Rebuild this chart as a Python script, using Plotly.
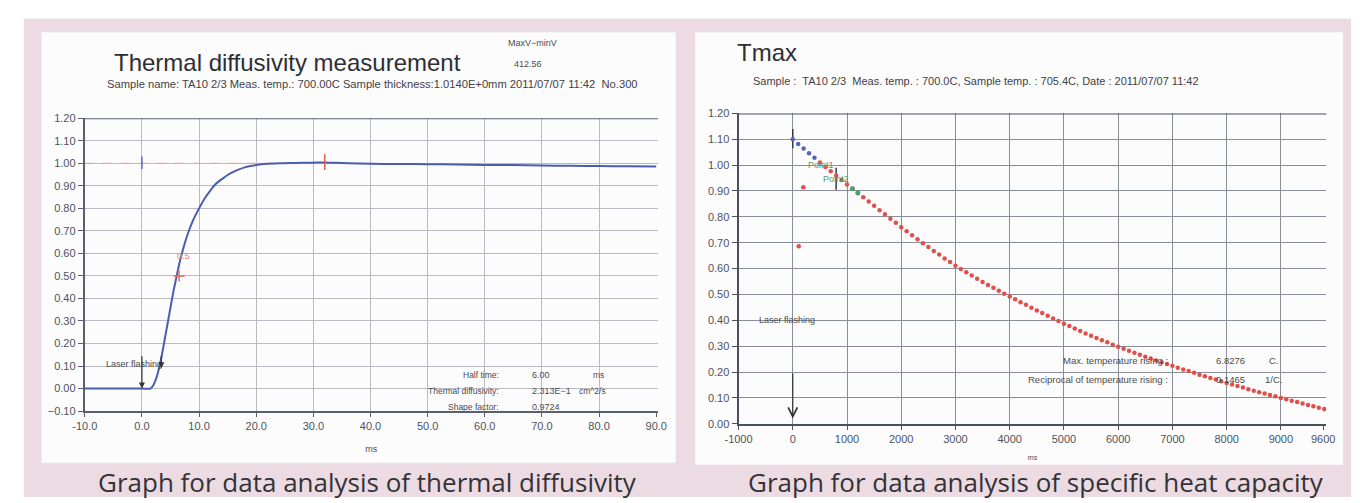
import plotly.graph_objects as go

W, H = 1360, 503

# ---------------- data: left chart (thermal diffusivity) ----------------
diff_time_ms = [-10, 0, 1.5, 2, 2.5, 3, 3.5, 4, 4.5, 5, 5.5, 6, 6.5, 7, 7.5, 8, 9, 10, 11, 12,
                13, 14, 15, 16, 17, 18, 19, 20, 22, 24, 26, 28, 30, 32, 34, 36, 40, 45, 50,
                55, 60, 65, 70, 75, 80, 85, 90]
diff_signal = [0, 0, 0, 0.015, 0.045, 0.09, 0.15, 0.22, 0.29, 0.36, 0.43, 0.49, 0.55, 0.60,
               0.645, 0.685, 0.75, 0.80, 0.845, 0.88, 0.91, 0.93, 0.948, 0.962, 0.973, 0.982,
               0.988, 0.993, 0.998, 1.0, 1.001, 1.002, 1.003, 1.004, 1.002, 1.0, 0.998, 0.997,
               0.996, 0.995, 0.993, 0.992, 0.990, 0.989, 0.988, 0.987, 0.986]
ref_level_x = [-10, 32]
ref_level_y = [1.0, 1.0]
start_mark_x = [0, 0]
start_mark_y = [0.975, 1.03]
end_mark_x = [32, 32]
end_mark_y = [0.97, 1.04]
half_point_x = [6.5]
half_point_y = [0.50]
left_xticks = [-10, 0, 10, 20, 30, 40, 50, 60, 70, 80, 90]
left_xtick_text = ["-10.0", "0.0", "10.0", "20.0", "30.0", "40.0", "50.0", "60.0", "70.0", "80.0", "90.0"]
left_yticks = [-0.1, 0.0, 0.1, 0.2, 0.3, 0.4, 0.5, 0.6, 0.7, 0.8, 0.9, 1.0, 1.1, 1.2]

# ---------------- data: right chart (Tmax) ----------------
extrap_x = [0, 100, 200, 300, 400]
extrap_y = [1.100, 1.082, 1.064, 1.046, 1.028]
outlier_x = [110, 195]
outlier_y = [0.686, 0.914]
tmax_x = list(range(500, 9900, 100))
tmax_y = [1.010, 0.993, 0.976, 0.959, 0.942, 0.925, 0.909, 0.892, 0.876, 0.859,
          0.843, 0.826, 0.810, 0.793, 0.777, 0.760, 0.744, 0.729, 0.713, 0.698,
          0.683, 0.668, 0.654, 0.639, 0.625, 0.611, 0.598, 0.586, 0.573, 0.561,
          0.548, 0.537, 0.526, 0.514, 0.503, 0.492, 0.481, 0.470, 0.460, 0.449,
          0.438, 0.428, 0.418, 0.407, 0.397, 0.387, 0.378, 0.368, 0.359, 0.349,
          0.340, 0.332, 0.323, 0.315, 0.306, 0.298, 0.290, 0.282, 0.275, 0.267,
          0.259, 0.252, 0.245, 0.238, 0.231, 0.224, 0.217, 0.210, 0.204, 0.197,
          0.190, 0.184, 0.177, 0.171, 0.164, 0.158, 0.152, 0.146, 0.140, 0.134,
          0.128, 0.122, 0.117, 0.111, 0.106, 0.100, 0.095, 0.089, 0.084, 0.078,
          0.073, 0.068, 0.062, 0.057]
fit_x = [1100, 1200]
fit_y = [0.909, 0.892]
point0_mark_x = [0, 0]
point0_mark_y = [1.065, 1.14]
point2_mark_x = [800, 800]
point2_mark_y = [0.905, 0.99]
right_grid_ticks = [-1000, 0, 1000, 2000, 3000, 4000, 5000, 6000, 7000, 8000, 9000]
right_label_ticks = [-1000, 0, 1000, 2000, 3000, 4000, 5000, 6000, 7000, 8000, 9000, 9780]
right_label_text = ["-1000", "0", "1000", "2000", "3000", "4000", "5000", "6000", "7000",
                    "8000", "9000", "9600"]
right_yticks = [0.0, 0.1, 0.2, 0.3, 0.4, 0.5, 0.6, 0.7, 0.8, 0.9, 1.0, 1.1, 1.2]


def px(x):
    return x / W


def py(y):
    return 1 - y / H


FAM = "Liberation Sans, Arial, sans-serif"
TICKFONT = dict(family=FAM, size=11, color="#4d525e")
SMALL = dict(family=FAM, size=9, color="#4a4a50")

fig = go.Figure()

# ---- left chart traces ----
fig.add_trace(go.Scatter(x=ref_level_x, y=ref_level_y, mode="lines",
                         line=dict(color="#f0a0a0", width=1.2, dash="dash"),
                         xaxis="x", yaxis="y", hoverinfo="skip"))
fig.add_trace(go.Scatter(x=diff_time_ms, y=diff_signal, mode="lines",
                         line=dict(color="#4a5db0", width=2, shape="spline", smoothing=0.6),
                         xaxis="x", yaxis="y"))
fig.add_trace(go.Scatter(x=start_mark_x, y=start_mark_y, mode="lines",
                         line=dict(color="#5a70c0", width=1.5), xaxis="x", yaxis="y"))
fig.add_trace(go.Scatter(x=end_mark_x, y=end_mark_y, mode="lines",
                         line=dict(color="#e05a50", width=1.5), xaxis="x", yaxis="y"))
fig.add_trace(go.Scatter(x=half_point_x, y=half_point_y, mode="markers",
                         marker=dict(symbol="cross-thin", size=8,
                                     line=dict(color="#e86a5a", width=1.5)),
                         xaxis="x", yaxis="y"))

# ---- right chart traces ----
fig.add_trace(go.Scatter(x=point0_mark_x, y=point0_mark_y, mode="lines",
                         line=dict(color="#333a48", width=1.5), xaxis="x2", yaxis="y2"))
fig.add_trace(go.Scatter(x=point2_mark_x, y=point2_mark_y, mode="lines",
                         line=dict(color="#333a48", width=1.5), xaxis="x2", yaxis="y2"))
fig.add_trace(go.Scatter(x=extrap_x, y=extrap_y, mode="markers",
                         marker=dict(color="#5565b5", size=4.5), xaxis="x2", yaxis="y2"))
fig.add_trace(go.Scatter(x=tmax_x, y=tmax_y, mode="markers",
                         marker=dict(color="#e0504a", size=4.5), xaxis="x2", yaxis="y2"))
fig.add_trace(go.Scatter(x=outlier_x, y=outlier_y, mode="markers",
                         marker=dict(color="#e0504a", size=4.5), xaxis="x2", yaxis="y2"))
fig.add_trace(go.Scatter(x=fit_x, y=fit_y, mode="markers",
                         marker=dict(color="#4fa070", size=5), xaxis="x2", yaxis="y2"))

# invisible traces so the overlay label axes are rendered
fig.add_trace(go.Scatter(x=[-10, 90], y=[0, 0], mode="markers", marker=dict(opacity=0),
                         xaxis="x3", yaxis="y", hoverinfo="skip"))
fig.add_trace(go.Scatter(x=[-1000, 9800], y=[0, 0], mode="markers", marker=dict(opacity=0),
                         xaxis="x4", yaxis="y2", hoverinfo="skip"))

L_DOM = [px(72), px(655)]
L_YDOM = [py(415), py(115)]
R_DOM = [px(737), px(1335)]
R_YDOM = [py(428), py(110)]
L_RANGE = [-10, 90.3]
R_RANGE = [-1000, 9840]

fig.update_layout(
    width=W, height=H, margin=dict(l=0, r=0, t=0, b=0),
    paper_bgcolor="white", plot_bgcolor="rgba(0,0,0,0)", showlegend=False,
    xaxis=dict(domain=L_DOM, range=L_RANGE, anchor="y", tickvals=left_xticks[:-1],
               showticklabels=False, ticks="", showgrid=True, gridcolor="#b9bac2",
               gridwidth=1.2, zeroline=False, showline=True, linecolor="#5b6070",
               linewidth=2),
    xaxis3=dict(overlaying="x", anchor="y", range=L_RANGE, tickvals=left_xticks,
                ticktext=left_xtick_text, ticks="outside", ticklen=5, tickcolor="#5b6070",
                tickwidth=1.2, showgrid=False, zeroline=False, showline=False,
                tickfont=TICKFONT, title=dict(text="ms", font=SMALL, standoff=14)),
    yaxis=dict(domain=L_YDOM, range=[-0.1, 1.2], anchor="x", tickvals=left_yticks,
               tickformat=".2f", ticks="outside", ticklen=5, tickcolor="#5b6070",
               showgrid=True, gridcolor="#b9bac2", gridwidth=1.2, zeroline=False,
               showline=True, linecolor="#5b6070", linewidth=2, tickfont=TICKFONT),
    xaxis2=dict(domain=R_DOM, range=R_RANGE, anchor="y2", tickvals=right_grid_ticks,
                showticklabels=False, ticks="", showgrid=True, gridcolor="#8a8e9a",
                gridwidth=1.4, zeroline=False, showline=True, linecolor="#4b5060",
                linewidth=2),
    xaxis4=dict(overlaying="x2", anchor="y2", range=R_RANGE, tickvals=right_label_ticks,
                ticktext=right_label_text, ticks="outside", ticklen=5, tickcolor="#4b5060",
                tickwidth=1.2, showgrid=False, zeroline=False, showline=False,
                tickfont=TICKFONT, title=dict(text="ms", font=dict(SMALL, size=7), standoff=11)),
    yaxis2=dict(domain=R_YDOM, range=[0, 1.2], anchor="x2", tickvals=right_yticks,
                tickformat=".2f", ticks="outside", ticklen=5, tickcolor="#4b5060",
                showgrid=True, gridcolor="#8a8e9a", gridwidth=1.4, zeroline=False,
                showline=True, linecolor="#4b5060", linewidth=2, tickfont=TICKFONT),
)

# background panels
shapes = [
    dict(type="rect", xref="paper", yref="paper", x0=px(10), x1=1, y0=0, y1=py(13),
         fillcolor="#ecdbe3", line=dict(width=0), layer="below"),
    dict(type="rect", xref="paper", yref="paper", x0=px(28), x1=px(673), y0=py(468), y1=py(27),
         fillcolor="#fdfcfd", line=dict(width=0), layer="below"),
    dict(type="rect", xref="paper", yref="paper", x0=px(693), x1=px(1352), y0=py(470), y1=py(27),
         fillcolor="#fdfcfd", line=dict(width=0), layer="below"),
    # top border lines of the plot areas
    dict(type="line", xref="x domain", yref="y", x0=0, x1=1, y0=1.2, y1=1.2,
         line=dict(color="#5b6070", width=2)),
    dict(type="line", xref="x2 domain", yref="y2", x0=0, x1=1, y0=1.2, y1=1.2,
         line=dict(color="#4b5060", width=2)),
]
fig.update_layout(shapes=shapes)

ann = []


def text(x, y, s, size=9, color="#4a4a50", anchor="left", family=FAM):
    ann.append(dict(xref="paper", yref="paper", x=px(x), y=py(y), text=s, showarrow=False,
                    xanchor=anchor, yanchor="middle",
                    font=dict(size=size, color=color, family=family)))


# left chart header
text(100, 58, "Thermal diffusivity measurement", size=24, color="#2e2e34")
text(500, 38, "MaxV−minV", size=9)
text(507, 59, "412.56", size=9)
text(93, 80, "Sample name: TA10 2/3 Meas. temp.: 700.00C Sample thickness:1.0140E+0mm 2011/07/07 11:42  No.300",
     size=11.2, color="#3f3f46")
# left chart result block
text(495, 378, "Half time:", size=8.5, anchor="right")
text(525, 378, "6.00", size=9)
text(587, 378, "ms", size=8.5)
text(495, 394, "Thermal diffusivity:", size=8.5, anchor="right")
text(525, 394, "2.313E−1", size=9)
text(573, 394, "cm^2/s", size=8.5)
text(495, 411, "Shape factor:", size=8.5, anchor="right")
text(525, 411, "0.9724", size=9)

# right chart header
text(733, 48, "Tmax", size=24, color="#2e2e34")
text(750, 77, "Sample :  TA10 2/3  Meas. temp. : 700.0C, Sample temp. : 705.4C, Date : 2011/07/07 11:42",
     size=11, color="#3f3f46")
# right chart result block
text(1176, 363, "Max. temperature rising :", size=9.5, anchor="right")
text(1221, 363, "6.8276", size=9.5)
text(1275, 363, "C.", size=9.5)
text(1176, 383, "Reciprocal of temperature rising :", size=9.5, anchor="right")
text(1221, 383, "0.1465", size=9.5)
text(1270, 383, "1/C.", size=9.5)

# captions
text(360, 488, "Graph for data analysis of thermal diffusivity", size=26, color="#333338",
     anchor="center", family="Open Sans, sans-serif")
text(1040, 488, "Graph for data analysis of specific heat capacity", size=26, color="#333338",
     anchor="center", family="Open Sans, sans-serif")

# data-anchored labels
ann.append(dict(xref="x", yref="y", x=7.2, y=0.59, text="0.5", showarrow=False,
                font=dict(size=9, color="#e8806a", family=FAM)))
ann.append(dict(xref="x", yref="y", x=-1.4, y=0.11, text="Laser flashing", showarrow=False,
                font=SMALL))
ann.append(dict(xref="x", yref="y", x=0, y=0.0, ax=0, ay=0.15, axref="x", ayref="y",
                text="", showarrow=True, arrowhead=2, arrowsize=1, arrowwidth=1.2,
                arrowcolor="#333"))
ann.append(dict(xref="x", yref="y", x=3.4, y=0.09, ax=3.4, ay=0.15, axref="x", ayref="y",
                text="", showarrow=True, arrowhead=2, arrowsize=1, arrowwidth=1.2,
                arrowcolor="#333"))
ann.append(dict(xref="x2", yref="y2", x=520, y=0.999, text="Point1", showarrow=False,
                font=dict(size=9, color="#4fa070", family=FAM)))
ann.append(dict(xref="x2", yref="y2", x=800, y=0.946, text="Point2", showarrow=False,
                font=dict(size=9, color="#4fa070", family=FAM)))
ann.append(dict(xref="x2", yref="y2", x=-100, y=0.40, text="Laser flashing", showarrow=False,
                font=SMALL))
ann.append(dict(xref="x2", yref="y2", x=0, y=0.02, ax=0, ay=0.20, axref="x2", ayref="y2",
                text="", showarrow=True, arrowhead=5, arrowsize=1.5, arrowwidth=1.2,
                arrowcolor="#333"))

fig.update_layout(annotations=ann)

fig.write_html("out.html", config={"displayModeBar": False},
               post_script="document.body.style.margin='0px';")
